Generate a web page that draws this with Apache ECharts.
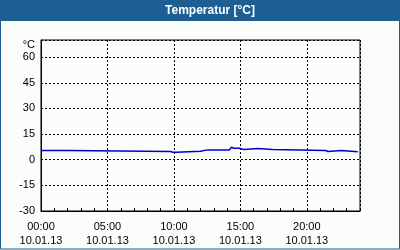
<!DOCTYPE html>
<html>
<head>
<meta charset="utf-8">
<script src="https://cdn.jsdelivr.net/npm/echarts@6/dist/echarts.min.js"></script>
<style>
  html, body { margin: 0; padding: 0; }
  #chart { width: 400px; height: 250px; }
</style>
</head>
<body>
<div id="chart"></div>
<script>
// Messzeitpunkte (10.01.13) und Temperatur in °C
var times = ['00:00', '02:05', '02:10', '09:45', '09:50', '09:55', '10:10', '10:15',
  '12:00', '12:05', '12:25', '12:30', '12:35', '14:10', '14:20', '14:25', '14:30',
  '14:55', '15:00', '15:15', '15:20', '16:20', '16:25', '17:25', '17:30', '21:25',
  '21:30', '21:35', '21:40', '22:35', '22:40', '23:50'];
var temps = [5.4, 5.4, 4.8, 4.8, 5.4, 4.4, 4.4, 5.0,
  5.0, 5.6, 5.6, 5.0, 5.7, 5.7, 7.3, 7.3, 6.7,
  6.7, 6.0, 6.0, 6.5, 6.5, 6.0, 6.0, 5.4, 5.4,
  4.8, 4.8, 5.4, 5.4, 4.6, 4.6];
var dayLabel = '10.01.13';
var yTicks = [-30, -15, 0, 15, 30, 45, 60];

var font = 'Liberation Sans';

function toHours(t) {
  var p = t.split(':');
  return +p[0] + +p[1] / 60;
}
var data = times.map(function (t, i) {
  return [toHours(t), temps[i]];
});

var chart = echarts.init(document.getElementById('chart'));
var option = {
  backgroundColor: '#fafdfa',
  animation: false,
  graphic: [
    {
      type: 'rect',
      shape: { x: 0, y: 0, width: 400, height: 21 },
      style: { fill: '#1d5f92' },
    },
    {
      type: 'rect',
      shape: { x: 0.5, y: 0.5, width: 399, height: 248.5 },
      style: { fill: 'none', stroke: '#1d5f92', lineWidth: 1 },
    },
    {
      type: 'text',
      style: {
        text: 'Temperatur [°C]',
        x: 210,
        y: 10.5,
        align: 'center',
        verticalAlign: 'middle',
        fill: '#ffffff',
        font: 'bold 12px "' + font + '"',
      },
    },
  ],
  grid: {
    left: 41,
    top: 40,
    right: 40,
    bottom: 39,
    show: true,
    borderColor: '#000',
    borderWidth: 1,
    backgroundColor: 'transparent',
  },
  xAxis: [
    {
      // Stundenstriche
      type: 'value',
      position: 'bottom',
      min: 0,
      max: 24,
      interval: 1,
      axisLine: { show: true, onZero: false, lineStyle: { color: '#000', width: 1 } },
      axisTick: { show: true, inside: true, length: 3, lineStyle: { color: '#000' } },
      axisLabel: { show: false },
      splitLine: { show: false },
    },
    {
      // Beschriftung + Raster alle 5 Stunden
      type: 'value',
      position: 'bottom',
      min: 0,
      max: 24,
      interval: 5,
      axisLine: { show: false, onZero: false },
      axisTick: { show: false },
      splitLine: {
        show: true,
        lineStyle: { color: '#000', width: 1, type: [2, 2] },
      },
      axisLabel: {
        show: true,
        margin: 9,
        color: '#000',
        fontFamily: font,
        fontSize: 11,
        lineHeight: 14,
        formatter: function (v) {
          if (v % 5 !== 0 || v >= 24) return '';
          return (v < 10 ? '0' + v : v) + ':00\n' + dayLabel;
        },
      },
    },
  ],
  yAxis: {
    type: 'value',
    min: yTicks[0],
    max: 70,
    interval: 15,
    name: '°C',
    nameLocation: 'end',
    nameGap: -5,
    nameTextStyle: {
      color: '#000',
      fontFamily: font,
      fontSize: 11,
      align: 'right',
      verticalAlign: 'middle',
      padding: [0, 6, 0, 0],
    },
    axisLine: { show: true, onZero: false, lineStyle: { color: '#000' } },
    axisTick: { show: false },
    splitLine: {
      show: true,
      lineStyle: { color: '#000', width: 1, type: [2, 2] },
    },
    axisLabel: {
      margin: 6,
      color: '#000',
      fontFamily: font,
      fontSize: 11,
      formatter: function (v) {
        return yTicks.indexOf(v) >= 0 ? String(v) : '';
      },
    },
  },
  series: [
    {
      type: 'line',
      xAxisIndex: 0,
      data: data,
      showSymbol: false,
      lineStyle: { color: '#0000d0', width: 1.5 },
    },
  ],
};
chart.setOption(option);
</script>
</body>
</html>
